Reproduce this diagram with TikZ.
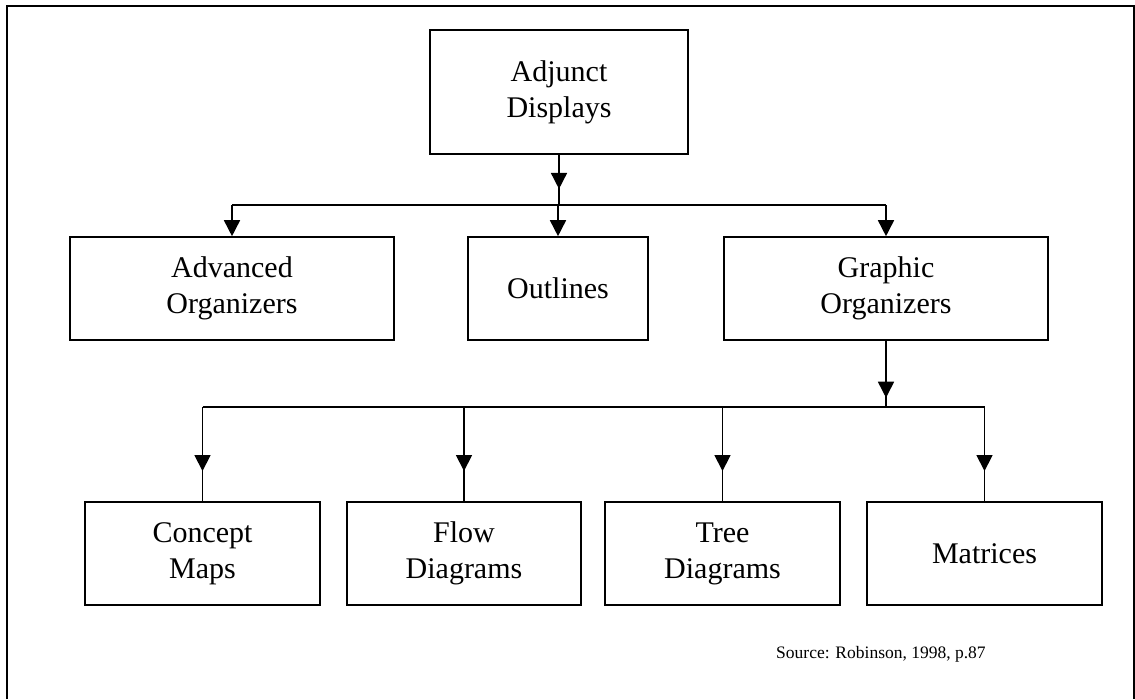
\documentclass[tikz,border=0pt]{standalone}
\usepackage{fontspec}
\setmainfont{Liberation Serif}
\usetikzlibrary{arrows.meta,decorations.markings}
\tikzset{
  box/.style={draw,line width=1.6pt,minimum height=103pt,align=center,inner sep=0pt,
    font=\fontsize{30}{36}\selectfont},
  conn/.style={line width=1.6pt},
  tri/.style={line width=1.6pt,-{Triangle[length=16pt,width=16pt]}},
  midtri/.style={line width=1.6pt,postaction=decorate,
    decoration={markings,mark=at position #1 with {\arrow{Triangle[length=16pt,width=16pt]}}}},
}
\begin{document}
\begin{tikzpicture}[x=1pt,y=-1pt]
\useasboundingbox (0,0) rectangle (1135,699);
\draw[line width=1.6pt] (7,699) -- (7,6) -- (1134,6) -- (1134,699);

\node[box,minimum width=258pt,minimum height=124pt] (ad) at (559,92) {Adjunct\\Displays};
\node[box,minimum width=324pt] (ao) at (232,288.5) {Advanced\\Organizers};
\node[box,minimum width=180pt] (ol) at (558,288.5) {Outlines};
\node[box,minimum width=324pt] (go) at (886,288.5) {Graphic\\Organizers};

\node[box,minimum width=235pt] (cm) at (202.5,553.5) {Concept\\Maps};
\node[box,minimum width=234pt] (fd) at (464,553.5) {Flow\\Diagrams};
\node[box,minimum width=235pt] (td) at (722.5,553.5) {Tree\\Diagrams};
\node[box,minimum width=235pt] (mx) at (984.5,553.5) {Matrices};

\coordinate (bus1) at (559,205);
\coordinate (bus2) at (886,407);

\draw[midtri=0.68] (ad.south) -- (bus1);
\draw[conn] (ao.north |- bus1) -- (go.north |- bus1);
\draw[tri] (ao.north |- bus1) -- (ao.north);
\draw[tri] (ol.north |- bus1) -- (ol.north);
\draw[tri] (go.north |- bus1) -- (go.north);

\draw[midtri=0.86] (go.south) -- (bus2);
\draw[conn] (cm.north |- bus2) -- (mx.north |- bus2);
\draw[midtri=0.68] (cm.north |- bus2) -- (cm.north);
\draw[midtri=0.68] (fd.north |- bus2) -- (fd.north);
\draw[midtri=0.68] (td.north |- bus2) -- (td.north);
\draw[midtri=0.68] (mx.north |- bus2) -- (mx.north);

\node[font=\fontsize{17.5}{21}\selectfont,anchor=base west,inner sep=0pt] (src) at (776,658) {Source: Robinson, 1998, p.87};
\end{tikzpicture}
\end{document}
